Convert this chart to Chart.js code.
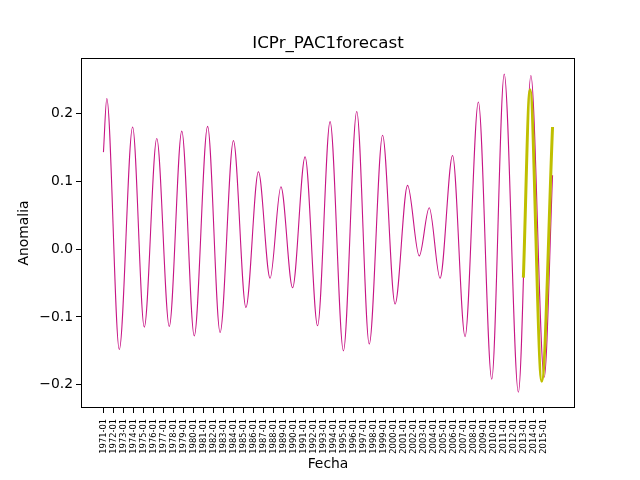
<!DOCTYPE html>
<html>
<head>
<meta charset="utf-8">
<script src="https://cdn.jsdelivr.net/npm/chart.js@4.4.1/dist/chart.umd.min.js"></script>
<style>
  body { margin: 0; background: #fff; }
</style>
</head>
<body>
<canvas id="myChart" width="640" height="480"></canvas>
<script>
// months counted from 1971-01 (= 0)
const pacMonths = [0, 4, 19, 35, 49, 64, 79, 94, 109, 125, 140, 156, 171, 186, 200, 213, 227, 242,
    257, 272, 288, 304, 319, 335, 350, 365, 379, 391, 404, 419, 434, 450, 466, 481, 498, 513, 529, 539];
const pacValues = [0.143, 0.222, -0.148, 0.180, -0.115, 0.163, -0.114, 0.174, -0.128, 0.181, -0.123, 0.160,
    -0.086, 0.114, -0.043, 0.092, -0.057, 0.136, -0.113, 0.188, -0.150, 0.203, -0.140, 0.168, -0.081, 0.094,
    -0.010, 0.061, -0.043, 0.138, -0.129, 0.217, -0.192, 0.258, -0.211, 0.256, -0.189, 0.109];
const forecastMonths = [504, 512, 526, 539];
const forecastValues = [-0.042, 0.235, -0.195, 0.180];
const xTickLabels = ['1971-01', '1972-01', '1973-01', '1974-01', '1975-01', '1976-01', '1977-01', '1978-01',
    '1979-01', '1980-01', '1981-01', '1982-01', '1983-01', '1984-01', '1985-01', '1986-01', '1987-01',
    '1988-01', '1989-01', '1990-01', '1991-01', '1992-01', '1993-01', '1994-01', '1995-01', '1996-01',
    '1997-01', '1998-01', '1999-01', '2000-01', '2001-01', '2002-01', '2003-01', '2004-01', '2005-01',
    '2006-01', '2007-01', '2008-01', '2009-01', '2010-01', '2011-01', '2012-01', '2013-01', '2014-01', '2015-01'];
const yTickValues = [-0.2, -0.1, 0.0, 0.1, 0.2];
const chartTitle = 'ICPr_PAC1forecast';

Chart.defaults.font.family = "'DejaVu Sans', sans-serif";
Chart.defaults.color = '#000';

// axes box + title centred over the plot area (like matplotlib)
const frame = {
    id: 'frame',
    afterDraw(chart) {
        const a = chart.chartArea;
        const c = chart.ctx;
        c.save();
        c.strokeStyle = '#000';
        c.lineWidth = 1;
        c.strokeRect(a.left + 0.5, a.top + 0.5, a.right - a.left - 1, a.bottom - a.top - 1);
        c.fillStyle = '#000';
        c.font = "16.7px 'DejaVu Sans', sans-serif";
        c.textAlign = 'center';
        c.textBaseline = 'middle';
        c.fillText(chartTitle, (a.left + a.right) / 2, 44);
        c.restore();
    }
};

const ctx = document.getElementById('myChart').getContext('2d');
new Chart(ctx, {
    type: 'line',
    data: {
        datasets: [{
            label: 'forecast',
            data: forecastMonths.map((m, i) => ({ x: m, y: forecastValues[i] })),
            borderColor: '#BFBF00',
            borderWidth: 3,
            pointRadius: 0,
            cubicInterpolationMode: 'monotone',
            order: 0
        }, {
            label: 'PAC1',
            data: pacMonths.map((m, i) => ({ x: m, y: pacValues[i] })),
            borderColor: '#C71585',
            borderWidth: 1.1,
            pointRadius: 0,
            cubicInterpolationMode: 'monotone',
            order: 1
        }]
    },
    options: {
        responsive: false,
        animation: false,
        devicePixelRatio: 1,
        layout: { padding: { left: 0, right: 65, top: 58, bottom: 0 } },
        plugins: {
            legend: { display: false },
            tooltip: { enabled: false }
        },
        scales: {
            x: {
                type: 'linear',
                min: -26.95,
                max: 565.95,
                afterFit: (scale) => { scale.height = 72; },
                afterBuildTicks: (scale) => { scale.ticks = xTickLabels.map((l, i) => ({ value: i * 12 })); },
                ticks: {
                    autoSkip: false,
                    minRotation: 90,
                    maxRotation: 90,
                    padding: 6,
                    font: { size: 8.3 },
                    callback: (value) => xTickLabels[Math.round(value / 12)]
                },
                grid: { display: true, drawOnChartArea: false, drawTicks: true, tickLength: 5, color: '#000' },
                border: { display: false },
                title: { display: true, text: 'Fecha', font: { size: 13.9 }, padding: { top: 0, bottom: 7 } }
            },
            y: {
                min: -0.2343,
                max: 0.2818,
                afterFit: (scale) => { scale.width = 81; },
                afterBuildTicks: (scale) => { scale.ticks = yTickValues.map(v => ({ value: v })); },
                ticks: {
                    padding: 3,
                    font: { size: 13.9 },
                    callback: (value) => value.toFixed(1).replace('-', '\u2212')
                },
                grid: { display: true, drawOnChartArea: false, drawTicks: true, tickLength: 5, color: '#000' },
                border: { display: false },
                title: { display: true, text: 'Anomalia', font: { size: 13.9 }, padding: { top: 16, bottom: 0 } }
            }
        }
    },
    plugins: [frame]
});
</script>
</body>
</html>
